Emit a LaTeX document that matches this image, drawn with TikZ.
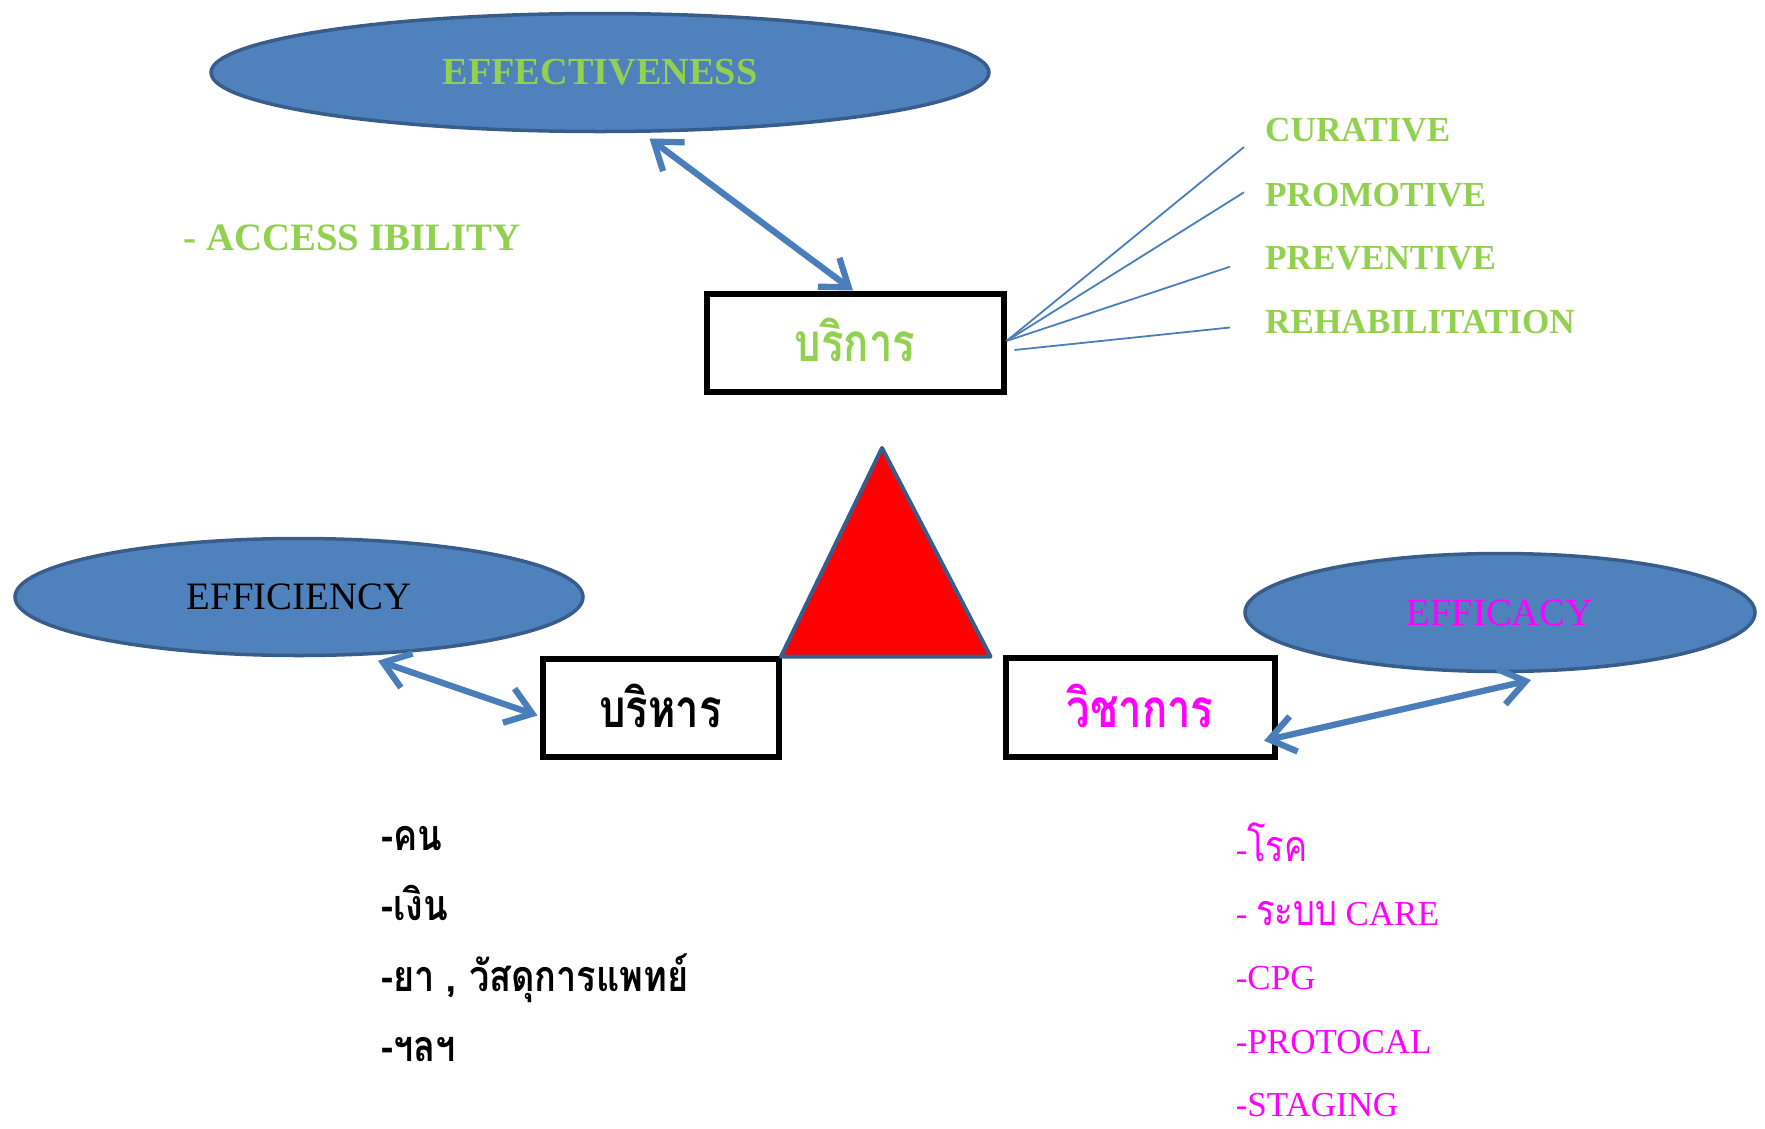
\documentclass[tikz,border=0pt]{standalone}
\usepackage{fontspec}
\setmainfont{Liberation Serif}
\newfontfamily\thaibox[Script=Thai, FakeStretch=0.79]{Loma}
\newfontfamily\thaileft[Script=Thai, FakeStretch=0.84]{Loma}
\newfontfamily\thairight[Script=Thai, FakeStretch=0.8]{Loma}
\usetikzlibrary{shapes.geometric,arrows.meta}
\definecolor{ellfill}{HTML}{4F81BD}
\definecolor{elldraw}{HTML}{385D8A}
\definecolor{lgreen}{HTML}{92D050}
\definecolor{mag}{HTML}{FF00FF}
\definecolor{conn}{HTML}{4A7EBB}
\begin{document}
\begin{tikzpicture}[x=1pt,y=-1pt,
  ell/.style={ellipse, fill=ellfill, draw=elldraw, line width=3.5pt, inner sep=0pt, outer sep=0pt},
  box/.style={rectangle, draw=black, line width=6pt, fill=white, inner sep=0pt, outer sep=0pt},
  boxfont/.style={font=\thaibox\fontsize{53}{56}\selectfont\bfseries},
  dbl/.style={draw=conn, line width=6.3pt, line cap=round, {Straight Barb[length=25pt,width=36pt]}-{Straight Barb[length=25pt,width=36pt]}},
  fine/.style={draw=conn, line width=1.8pt},
  lab/.style={anchor=base west, inner sep=0pt, font=\fontsize{35.2}{40}\selectfont\bfseries, text=lgreen},
  lefttxt/.style={anchor=base west, inner sep=0pt, font=\thaileft\fontsize{43}{46}\selectfont\bfseries, text=black},
  righttxt/.style={anchor=base west, inner sep=0pt, font=\fontsize{35}{40}\selectfont, text=mag},
]
\useasboundingbox (0,0) rectangle (1765,1128);

% ellipses
\node[ell, minimum width=778pt, minimum height=118pt, text=lgreen,
      font=\fontsize{38.3}{40}\selectfont\bfseries] (effn) at (600,72.5) {EFFECTIVENESS};
\node[ell, minimum width=568pt, minimum height=117pt, text=black,
      font=\fontsize{38.8}{40}\selectfont] (ecy) at (299,597) {EFFICIENCY};
\node[ell, minimum width=510pt, minimum height=118pt, text=mag,
      font=\fontsize{38.5}{40}\selectfont] (ecc) at (1500,612.5) {EFFICACY};

% boxes
\node[box, boxfont, minimum width=297pt, minimum height=98pt, text=lgreen] (srv) at (855,342.5) {\raisebox{5pt}{บริการ}};
\node[box, boxfont, minimum width=236pt, minimum height=98pt, text=black] (adm) at (660.5,707.5) {\raisebox{4pt}{บริหาร}};
\node[box, boxfont, minimum width=269pt, minimum height=98.5pt, text=mag] (vic) at (1140,707.7) {\raisebox{4pt}{วิชาการ}};

% triangle
\draw[fill=red, draw=elldraw, line width=4pt, line join=round]
  (882,448) -- (990.5,656.5) -- (781,656.5) -- cycle;

% access
\node[lab, font=\fontsize{38.8}{40}\selectfont\bfseries] (acc) at (183.5,250.7) {- ACCESS IBILITY};

% service labels
\node[lab] (cur) at (1265,141.7) {CURATIVE};
\node[lab] (pro) at (1265,206) {PROMOTIVE};
\node[lab] (pre) at (1265,269.3) {PREVENTIVE};
\node[lab] (reh) at (1265,333.3) {REHABILITATION};

\draw[fine] ([xshift=3pt,yshift=1.5pt]srv.east) -- ([xshift=-21pt,yshift=-5.3pt]cur.base west);
\draw[fine] ([xshift=3pt,yshift=1.5pt]srv.east) -- ([xshift=-21pt,yshift=13.7pt]pro.base west);
\draw[fine] ([xshift=3pt,yshift=1.5pt]srv.east) -- ([xshift=-35pt,yshift=2.6pt]pre.base west);
\draw[fine] ([xshift=11pt,yshift=-7.5pt]srv.east) -- ([xshift=-35pt,yshift=5.8pt]reh.base west);

% double arrows
\draw[dbl] ([xshift=49.5pt,yshift=-7pt]effn.south) -- ([xshift=-2pt,yshift=3pt]srv.north);
\draw[dbl] ([xshift=79pt,yshift=-5.25pt]ecy.south) -- ([xshift=-5pt,yshift=-8pt]adm.west);
\draw[dbl] ([xshift=-10.5pt,yshift=-33pt]vic.east) -- ([xshift=31pt,yshift=-8.5pt]ecc.south);

% left list
\node[lefttxt] (l1) at (381,850) {-คน};
\node[lefttxt] (l2) at (381,920) {-เงิน};
\node[lefttxt] (l3) at (381,991.7) {-ยา , วัสดุการแพทย์};
\node[lefttxt] (l4) at (381,1061.7) {-ฯลฯ};

% right list
\node[righttxt] (r1) at (1235.6,861) {-{\thairight\fontsize{43}{46}\selectfont โรค}};
\node[righttxt] (r2) at (1235.6,925) {- {\thairight\fontsize{43}{46}\selectfont ระบบ} CARE};
\node[righttxt] (r3) at (1235.6,989) {-CPG};
\node[righttxt] (r4) at (1235.6,1053) {-PROTOCAL};
\node[righttxt] (r5) at (1235.6,1116.7) {-STAGING};
\end{tikzpicture}
\end{document}
